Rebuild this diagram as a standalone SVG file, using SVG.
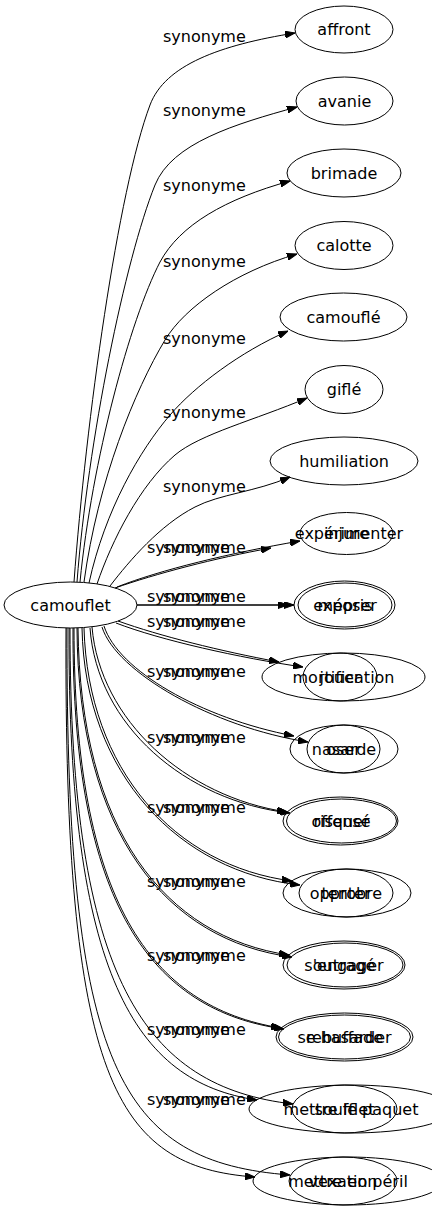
<svg xmlns="http://www.w3.org/2000/svg" width="432" height="1211" viewBox="0 0 432 1211">
<style>
text{font-family:"DejaVu Sans","Liberation Sans",sans-serif;font-size:16px;fill:#000}
.node ellipse{fill:none;stroke:#000;stroke-width:1}
.node text{text-anchor:middle}
#edges path{fill:none;stroke:#000;stroke-width:1;marker-end:url(#arr)}
</style>
<defs>
<marker id="arr" markerWidth="10" markerHeight="7" refX="10" refY="3.5" orient="auto" markerUnits="userSpaceOnUse">
<path d="M0,0 L10,3.5 L0,7 Z" fill="#000" stroke="#000" stroke-width="1"/>
</marker>
</defs>
<rect x="0" y="0" width="432" height="1211" fill="#fff"/>
<g id="edges">
<path d="M74,582 C86,420 118,190 150,105 C165,65 220,45 295,33"/>
<path d="M77,582 C88,440 125,260 155,185 C172,143 235,124 297,107"/>
<path d="M80,582 C92,460 130,320 160,262 C180,225 225,199 290,181"/>
<path d="M84,582 C98,480 135,390 165,340 C185,307 235,272 297,254"/>
<path d="M89,583 C105,510 140,450 170,415 C195,386 240,352 288,331"/>
<path d="M97,584 C112,540 140,485 175,455 C200,434 255,420 307,398"/>
<path d="M110,586 C130,560 160,525 195,507 C220,494 255,492 290,477"/>
<path d="M117,587 C160,570 230,553 300,541"/>
<path d="M115,588 C155,574 215,558 271,548"/>
<path d="M137,605 L294,605"/>
<path d="M137,605 L288,605"/>
<path d="M118,621 C160,636 220,651 279,662"/>
<path d="M116,623 C160,640 240,658 303,667"/>
<path d="M104,626 C118,670 200,718 294,736"/>
<path d="M102,627 C116,672 212,727 308,742"/>
<path d="M92,627 C100,720 185,797 287,812"/>
<path d="M90,628 C97,725 185,801 290,813"/>
<path d="M84,628 C88,770 175,866 292,881"/>
<path d="M82,628 C85,775 180,872 300,885"/>
<path d="M78,628 C80,830 165,937 289,955"/>
<path d="M77,628 C78,835 168,941 292,957"/>
<path d="M74,628 C74,900 150,1007 281,1028"/>
<path d="M73,628 C72,905 152,1011 284,1029"/>
<path d="M70,628 C70,980 145,1087 293,1104"/>
<path d="M69,628 C68,975 135,1082 257,1100"/>
<path d="M67,628 C66,1070 120,1162 290,1175"/>
<path d="M66,628 C64,1080 115,1167 255,1177"/>
<text x="163" y="42">synonyme</text>
<text x="163" y="116">synonyme</text>
<text x="163" y="191">synonyme</text>
<text x="163" y="267">synonyme</text>
<text x="163" y="344">synonyme</text>
<text x="163" y="418">synonyme</text>
<text x="163" y="492">synonyme</text>
<text x="163" y="553">synonyme</text><text x="147" y="553">synonyme</text>
<text x="163" y="602">synonyme</text><text x="147" y="602">synonyme</text>
<text x="163" y="627">synonyme</text><text x="147" y="627">synonyme</text>
<text x="163" y="677">synonyme</text><text x="147" y="677">synonyme</text>
<text x="163" y="743">synonyme</text><text x="147" y="743">synonyme</text>
<text x="163" y="813">synonyme</text><text x="147" y="813">synonyme</text>
<text x="163" y="887">synonyme</text><text x="147" y="887">synonyme</text>
<text x="163" y="961">synonyme</text><text x="147" y="961">synonyme</text>
<text x="163" y="1035">synonyme</text><text x="147" y="1035">synonyme</text>
<text x="163" y="1105">synonyme</text><text x="147" y="1105">synonyme</text>
</g>
<g id="camouflet" class="node"><ellipse cx="70.5" cy="605" rx="66.5" ry="23"/><text x="70.5" y="610.5">camouflet</text></g>
<g id="affront" class="node"><ellipse cx="344" cy="29.5" rx="49" ry="23.5"/><text x="344" y="35">affront</text></g>
<g id="avanie" class="node"><ellipse cx="344.5" cy="101" rx="48.5" ry="24"/><text x="344.5" y="106.5">avanie</text></g>
<g id="brimade" class="node"><ellipse cx="344" cy="173" rx="57" ry="24"/><text x="344" y="178.5">brimade</text></g>
<g id="calotte" class="node"><ellipse cx="344" cy="245.5" rx="49" ry="24"/><text x="344" y="251">calotte</text></g>
<g id="camoufle" class="node"><ellipse cx="343.5" cy="317" rx="63.5" ry="24"/><text x="343.5" y="322.5">camouflé</text></g>
<g id="gifle" class="node"><ellipse cx="344" cy="389.5" rx="39" ry="24"/><text x="344" y="395">giflé</text></g>
<g id="humiliation" class="node"><ellipse cx="344" cy="461" rx="74" ry="24"/><text x="344" y="466.5">humiliation</text></g>
<g id="injure" class="node"><ellipse cx="346.5" cy="533.5" rx="46.5" ry="21"/><text x="346.5" y="539">injure</text></g>
<g id="experimenter" class="node"><text x="349" y="539">expérimenter</text></g>
<g id="mepris" class="node"><ellipse cx="344.5" cy="605" rx="50.5" ry="24"/><text x="345" y="610.5">mépris</text></g>
<g id="exposer" class="node"><ellipse cx="345" cy="605" rx="47" ry="22"/><text x="345" y="610.5">exposer</text></g>
<g id="mortification" class="node"><ellipse cx="343.5" cy="677" rx="81.5" ry="24"/><text x="343.5" y="682.5">mortification</text></g>
<g id="jouer" class="node"><ellipse cx="340" cy="677" rx="37" ry="24"/><text x="340" y="682.5">jouer</text></g>
<g id="nasarde" class="node"><ellipse cx="344" cy="749" rx="54" ry="24"/><text x="344" y="754.5">nasarde</text></g>
<g id="oser" class="node"><ellipse cx="343.5" cy="749" rx="36.5" ry="24"/><text x="343.5" y="754.5">oser</text></g>
<g id="offense" class="node"><ellipse cx="340.5" cy="821" rx="57.5" ry="24"/><text x="341" y="826.5">offensé</text></g>
<g id="risquer" class="node"><ellipse cx="341.5" cy="821" rx="55" ry="22"/><text x="341.5" y="826.5">risquer</text></g>
<g id="opprobre" class="node"><ellipse cx="347" cy="893" rx="64" ry="24"/><text x="346" y="898.5">opprobre</text></g>
<g id="tenter" class="node"><ellipse cx="346" cy="893" rx="47" ry="24"/><text x="346" y="898.5">tenter</text></g>
<g id="outrage" class="node"><ellipse cx="344" cy="965" rx="61" ry="24"/><text x="344" y="970.5">outragé</text></g>
<g id="sengager" class="node"><ellipse cx="345" cy="965" rx="58" ry="22"/><text x="344" y="970.5">s'engager</text></g>
<g id="rebuffade" class="node"><ellipse cx="344.5" cy="1037" rx="68.5" ry="24"/><text x="344.5" y="1042.5">rebuffade</text></g>
<g id="sehasarder" class="node"><ellipse cx="344.5" cy="1037" rx="66" ry="22"/><text x="344.5" y="1042.5">se hasarder</text></g>
<g id="soufflet" class="node"><ellipse cx="344.5" cy="1109" rx="52.5" ry="24"/><text x="344.5" y="1114.5">soufflet</text></g>
<g id="mettrelepaquet" class="node"><ellipse cx="351" cy="1109" rx="102" ry="24"/><text x="351" y="1114.5">mettre le paquet</text></g>
<g id="vexation" class="node"><ellipse cx="343" cy="1181" rx="54" ry="24"/><text x="343" y="1186.5">vexation</text></g>
<g id="mettreenperil" class="node"><ellipse cx="348" cy="1181" rx="95" ry="24"/><text x="348" y="1186.5">mettre en péril</text></g>
</svg>
